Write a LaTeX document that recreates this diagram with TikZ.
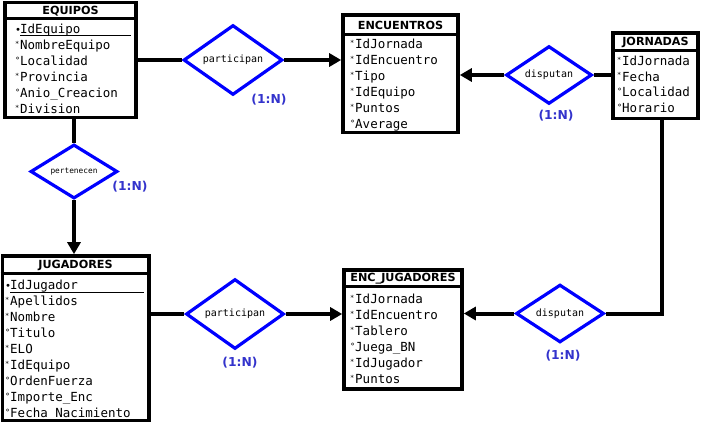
\documentclass[tikz,border=0pt]{standalone}
\usepackage{fontspec}
\setmainfont{DejaVu Sans}
\newfontfamily\attrfont{DejaVu Sans Mono}
\usetikzlibrary{shapes.geometric,arrows.meta,fit}

\definecolor{relblue}{RGB}{0,0,255}
\definecolor{cardblue}{RGB}{51,51,204}

% attribute markers: key, required, optional
\newcommand\AttrKey{\makebox[5pt][l]{\raisebox{0.5pt}{\fontsize{10}{10}\selectfont •}}}
\newcommand\AttrReq{\makebox[5pt][l]{\raisebox{3.5pt}{\fontsize{7}{7}\selectfont *}}}
\newcommand\AttrOpt{\makebox[5pt][l]{\raisebox{2.5pt}{\fontsize{8.5}{8.5}\selectfont °}}}

\tikzset{
  entity/.style={draw, line width=3.6pt, inner sep=0pt, fill=white},
  divider/.style={line width=3.4pt},
  title/.style={font=\bfseries\fontsize{11.2}{13}\selectfont, inner sep=0pt},
  attr/.style={anchor=base west, inner sep=0pt, font=\attrfont\fontsize{12.5}{14}\selectfont},
  keyline/.style={line width=1.1pt},
  relation/.style={diamond, draw=relblue, line width=3.2pt, inner sep=0pt, fill=white,
    font=\attrfont\fontsize{10}{12}\selectfont},
  card/.style={text=cardblue, font=\bfseries\fontsize{12.3}{14}\selectfont, inner sep=0pt},
  link/.style={line width=4pt},
  arrowlink/.style={link, -{Triangle[length=12pt,width=13pt]}},
}

\begin{document}
\begin{tikzpicture}[x=1pt,y=-1pt]
\useasboundingbox (0,0) rectangle (709,423);
\fill[white] (0,0) rectangle (709,423);

% ---------- EQUIPOS ----------
\node[entity, fit={(5,2.5) (136,117.5)}] (equipos) {};
\node[title] (equipos-t) at (70.5,11) {EQUIPOS};
\draw[divider] (equipos.west |- 0,18.5) -- (equipos.east |- 0,18.5);
\foreach \m/\t [count=\i from 0] in {\AttrKey/IdEquipo, \AttrReq/NombreEquipo,
    \AttrOpt/Localidad, \AttrReq/Provincia, \AttrOpt/Anio\_Creacion, \AttrReq/Division}
  \node[attr] (equipos-\i) at (15,33.5+16*\i) {\m\t};
\draw[keyline] (20,35.5) -- (131,35.5);

% ---------- ENCUENTROS ----------
\node[entity, fit={(343,15) (458,132.5)}] (encuentros) {};
\node[title] (encuentros-t) at (400.5,25) {ENCUENTROS};
\draw[divider] (encuentros.west |- 0,34.5) -- (encuentros.east |- 0,34.5);
\foreach \m/\t [count=\i from 0] in {\AttrReq/IdJornada, \AttrReq/IdEncuentro,
    \AttrReq/Tipo, \AttrReq/IdEquipo, \AttrReq/Puntos, \AttrOpt/Average}
  \node[attr] (encuentros-\i) at (350,48.5+16*\i) {\m\t};

% ---------- JORNADAS ----------
\node[entity, fit={(613,33) (698,118.5)}] (jornadas) {};
\node[title] (jornadas-t) at (655.5,42) {JORNADAS};
\draw[divider] (jornadas.west |- 0,50.5) -- (jornadas.east |- 0,50.5);
\foreach \m/\t [count=\i from 0] in {\AttrReq/IdJornada, \AttrReq/Fecha,
    \AttrOpt/Localidad, \AttrOpt/Horario}
  \node[attr] (jornadas-\i) at (617,65.5+15.7*\i) {\m\t};

% ---------- JUGADORES ----------
\node[entity, fit={(2.5,256) (149,420.5)}] (jugadores) {};
\node[title] (jugadores-t) at (75.5,265.5) {JUGADORES};
\draw[divider] (jugadores.west |- 0,273.5) -- (jugadores.east |- 0,273.5);
\foreach \m/\t [count=\i from 0] in {\AttrKey/IdJugador, \AttrReq/Apellidos,
    \AttrReq/Nombre, \AttrOpt/Titulo, \AttrReq/ELO, \AttrReq/IdEquipo,
    \AttrOpt/OrdenFuerza, \AttrOpt/Importe\_Enc, \AttrOpt/Fecha Nacimiento}
  \node[attr] (jugadores-\i) at (5,289.5+16*\i) {\m\t};
\draw[keyline] (10,292.5) -- (144,292.5);

% ---------- ENC_JUGADORES ----------
\node[entity, fit={(344,270) (462,389)}] (encjug) {};
\node[title] (encjug-t) at (403,278.5) {ENC\_JUGADORES};
\draw[divider] (encjug.west |- 0,286.5) -- (encjug.east |- 0,286.5);
\foreach \m/\t [count=\i from 0] in {\AttrReq/IdJornada, \AttrReq/IdEncuentro,
    \AttrReq/Tablero, \AttrOpt/Juega\_BN, \AttrReq/IdJugador, \AttrReq/Puntos}
  \node[attr] (encjug-\i) at (350,303.5+16*\i) {\m\t};

% ---------- relationships ----------
\node[relation, minimum width=99pt, minimum height=60pt] (p1) at (233,60) {participan};
\node[relation, minimum width=87pt, minimum height=51pt,
      font=\attrfont\fontsize{7.8}{9}\selectfont] (pe) at (74,171.5) {pertenecen};
\node[relation, minimum width=86pt, minimum height=55pt] (d1) at (549,75) {disputan};
\node[relation, minimum width=98pt, minimum height=59pt] (p2) at (235,314) {participan};
\node[relation, minimum width=88pt, minimum height=55pt] (d2) at (560,313.5) {disputan};

% cardinalities
\node[card] (c1) at (269,99.5) {(1:N)};
\node[card] (c2) at (130,186.5) {(1:N)};
\node[card] (c3) at (556,116) {(1:N)};
\node[card] (c4) at (240,363) {(1:N)};
\node[card] (c5) at (563,355.5) {(1:N)};

% ---------- connectors ----------
\draw[link] (equipos.east |- p1.west) -- (p1.west);
\draw[arrowlink] (p1.east) -- (encuentros.west |- p1.east);

\draw[link] (pe.north |- equipos.south) -- (pe.north);
\draw[arrowlink] (pe.south) -- (pe.south |- jugadores.north);

\draw[link] (jornadas.west |- d1.east) -- (d1.east);
\draw[arrowlink] (d1.west) -- (encuentros.east |- d1.west);

\draw[link] (jugadores.east |- p2.west) -- (p2.west);
\draw[arrowlink] (p2.east) -- (encjug.west |- p2.east);

\coordinate (bend) at (662,313.5);
\draw[link] (bend |- jornadas.south) -- (bend) -- (d2.east);
\draw[arrowlink] (d2.west) -- (encjug.east |- d2.west);
\end{tikzpicture}
\end{document}
